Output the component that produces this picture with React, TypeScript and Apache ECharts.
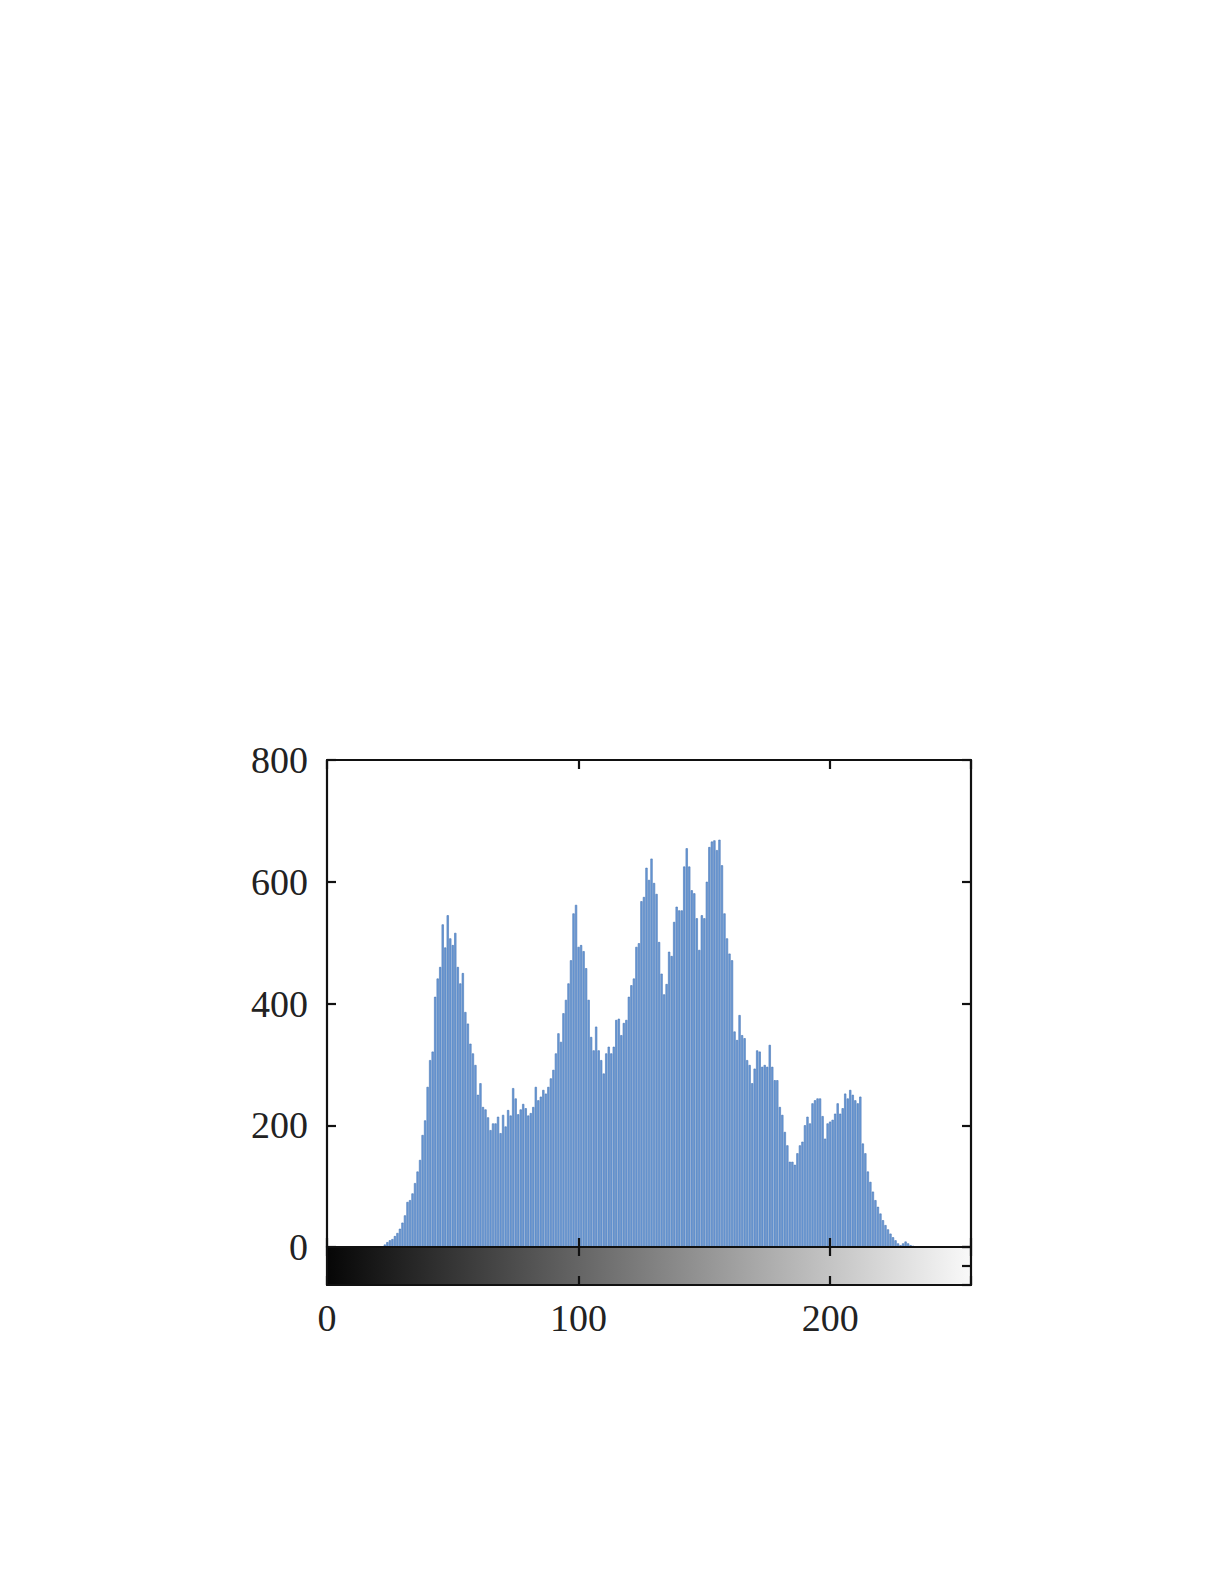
import React, { useEffect, useRef } from "react";
import * as echarts from "echarts";

// Histogram of gray levels 0..255 (pixel counts per level)
const pixelCounts: number[] = [
  0, 0, 0, 0, 0, 0, 0, 0, 0, 0, 0, 0, 0, 0, 0, 0, 0, 0, 0, 0, 0, 0, 0,
  4, 8, 11, 13, 18, 23, 30, 40, 52, 74, 77, 88, 105, 124, 143, 184, 208, 263, 307, 321,
  411, 441, 460, 530, 492, 545, 507, 496, 516, 460, 433, 450, 386, 367, 334, 318, 299, 250,
  269, 230, 226, 213, 192, 203, 203, 214, 187, 217, 198, 225, 216, 261, 244, 218, 226, 235,
  228, 216, 220, 230, 263, 241, 247, 258, 252, 263, 277, 291, 318, 351, 337, 384, 406, 433,
  471, 548, 562, 493, 496, 486, 458, 406, 345, 323, 362, 323, 307, 285, 318, 329, 318, 329,
  373, 375, 348, 368, 373, 411, 430, 441, 493, 499, 568, 575, 623, 603, 638, 598, 580, 501,
  449, 415, 432, 485, 478, 534, 559, 553, 553, 625, 655, 625, 586, 581, 540, 488, 545, 540,
  600, 657, 666, 668, 652, 669, 627, 548, 507, 482, 471, 354, 340, 381, 348, 343, 307, 299,
  269, 293, 323, 321, 296, 299, 296, 332, 296, 274, 274, 230, 217, 189, 167, 140, 140, 135,
  154, 167, 173, 200, 214, 203, 236, 241, 244, 244, 215, 178, 203, 206, 209, 219, 236, 219,
  228, 252, 244, 258, 250, 241, 236, 247, 170, 154, 124, 107, 91, 77, 66, 55, 44, 36, 29,
  22, 16, 11, 6, 3, 6, 9, 6, 3, 2, 1,
  0, 0, 0, 0, 0, 0, 0, 0, 0, 0, 0, 0, 0, 0, 0, 0, 0, 0, 0, 0, 0,
];

const xRange = [0, 256];
const xTickStep = 100;
const yRange = [0, 800];
const yTickStep = 200;
const colorbarRange = [0, 256];
const colorbarStops = ["#060606", "#f9f9f9"];

const FONT = "'Liberation Serif', 'Times New Roman', serif";

export default function App() {
  const ref = useRef<HTMLDivElement>(null);

  useEffect(() => {
    if (!ref.current) return;
    const chart = echarts.init(ref.current, null, { renderer: "svg" });

    const line = { show: true, onZero: false, lineStyle: { color: "#111", width: 2.2 } };
    const tick = { show: true, inside: true, length: 9, lineStyle: { color: "#111", width: 2.2 } };

    const xBase = {
      type: "value" as const,
      min: xRange[0],
      max: xRange[1],
      interval: xTickStep,
      splitLine: { show: false },
      axisLine: line,
      axisTick: tick,
      z: 10,
    };

    const option: any = {
      animation: false,
      backgroundColor: "#ffffff",
      grid: [
        { left: 327, top: 760, width: 644, height: 487 },
        { left: 327, top: 1247, width: 644, height: 38 },
      ],
      xAxis: [
        { ...xBase, gridIndex: 0, position: "bottom", axisLabel: { show: false } },
        { ...xBase, gridIndex: 0, position: "top", axisLabel: { show: false } },
        {
          ...xBase,
          gridIndex: 1,
          position: "bottom",
          axisLabel: {
            show: true,
            margin: 14,
            color: "#222",
            fontFamily: FONT,
            fontSize: 38,
            formatter: (v: number) => (v % xTickStep === 0 ? String(v) : ""),
          },
        },
        { ...xBase, gridIndex: 1, position: "top", axisLabel: { show: false } },
      ],
      yAxis: [
        {
          type: "value",
          gridIndex: 0,
          position: "left",
          min: yRange[0],
          max: yRange[1],
          interval: yTickStep,
          splitLine: { show: false },
          axisLine: line,
          axisTick: tick,
          axisLabel: { show: true, margin: 19, color: "#222", fontFamily: FONT, fontSize: 38 },
          z: 10,
        },
        {
          type: "value",
          gridIndex: 0,
          position: "right",
          min: yRange[0],
          max: yRange[1],
          interval: yTickStep,
          splitLine: { show: false },
          axisLine: line,
          axisTick: tick,
          axisLabel: { show: false },
          z: 10,
        },
        {
          type: "value",
          gridIndex: 1,
          position: "left",
          min: 0,
          max: 1,
          splitLine: { show: false },
          axisLine: line,
          axisTick: { show: false },
          axisLabel: { show: false },
          z: 10,
        },
        {
          type: "value",
          gridIndex: 1,
          position: "right",
          min: 0,
          max: 1,
          interval: 0.5,
          splitLine: { show: false },
          axisLine: line,
          axisTick: tick,
          axisLabel: { show: false },
          z: 10,
        },
      ],
      series: [
        {
          type: "bar",
          xAxisIndex: 0,
          yAxisIndex: 0,
          barWidth: 2.2,
          data: pixelCounts.map((v, i) => [i, v]),
          itemStyle: { color: "#6c9bd7", borderColor: "#4675b6", borderWidth: 0.6 },
          z: 2,
        },
        {
          type: "custom",
          xAxisIndex: 2,
          yAxisIndex: 2,
          data: [[colorbarRange[0], 1, colorbarRange[1], 0]],
          renderItem: (_params: any, api: any) => {
            const p0 = api.coord([api.value(0), api.value(1)]);
            const p1 = api.coord([api.value(2), api.value(3)]);
            return {
              type: "rect",
              shape: { x: p0[0], y: p0[1], width: p1[0] - p0[0], height: p1[1] - p0[1] },
              style: {
                fill: new echarts.graphic.LinearGradient(0, 0, 1, 0, [
                  { offset: 0, color: colorbarStops[0] },
                  { offset: 1, color: colorbarStops[1] },
                ]),
              },
            };
          },
          z: 1,
        },
      ],
    };

    chart.setOption(option);
    return () => chart.dispose();
  }, []);

  return (
    <div
      ref={ref}
      style={{ position: "absolute", left: 0, top: 0, width: 1225, height: 1585, background: "#fff" }}
    />
  );
}
